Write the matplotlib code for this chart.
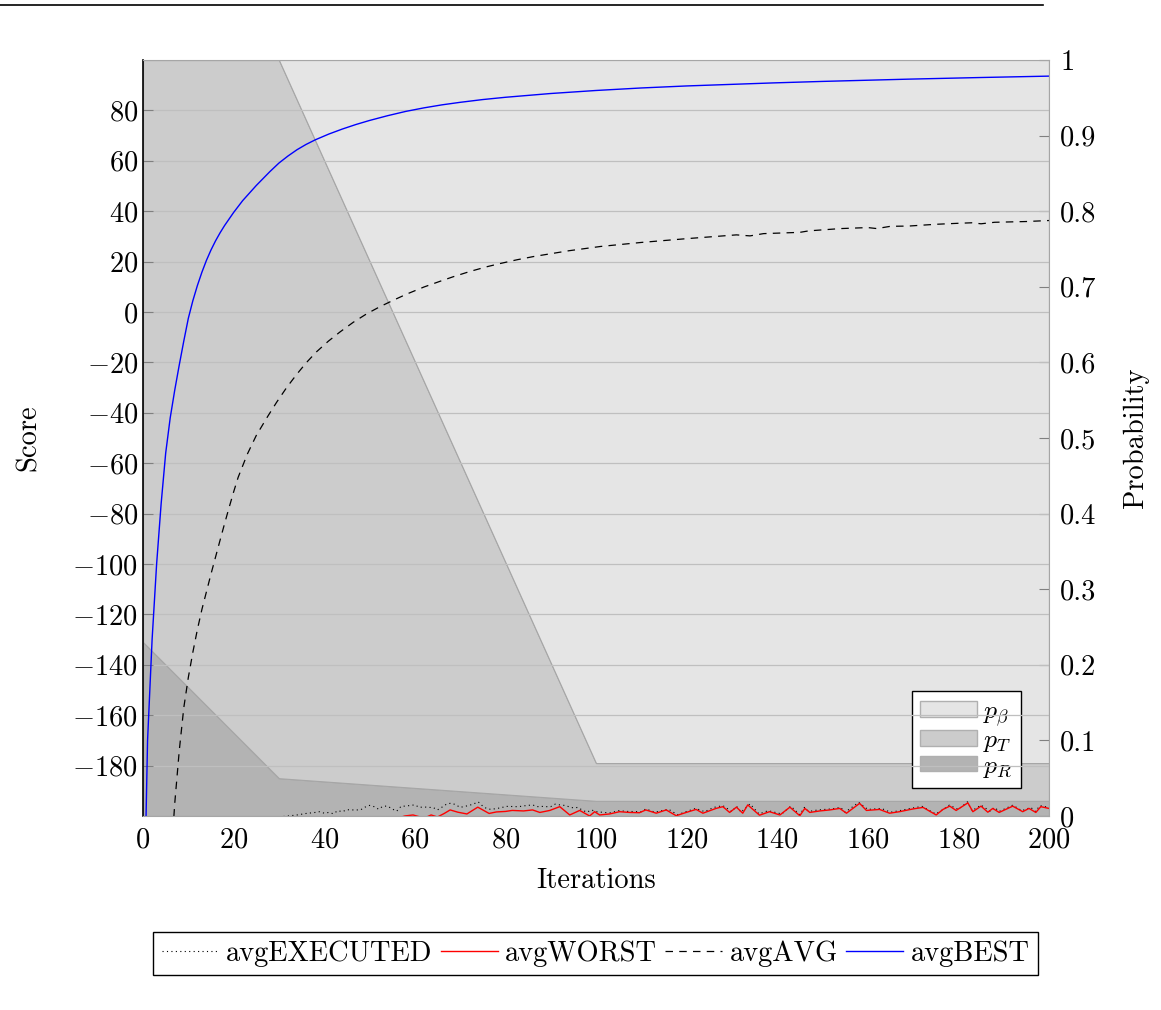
import matplotlib
matplotlib.use("Agg")
import matplotlib.pyplot as plt
from matplotlib.lines import Line2D
from matplotlib.patches import Patch
from matplotlib.ticker import FuncFormatter

plt.rcParams['font.family'] = 'cmr10'
plt.rcParams['mathtext.fontset'] = 'cm'
plt.rcParams['axes.formatter.use_mathtext'] = True
plt.rcParams['font.size'] = 20.5

# --- probabilities (right axis, stacked) ---
prob_x = [0, 30, 100, 200]
p_R = [0.23, 0.05, 0.02, 0.02]
p_T = [0.77, 0.95, 0.05, 0.05]
p_beta = [0.0, 0.0, 0.93, 0.93]

# --- avgBEST ---
best_x = [0, 1, 2, 3, 4, 5, 6, 7, 8, 9, 10, 11, 12, 13, 14, 15, 16, 17, 18, 20,
          22, 25, 28, 30, 32, 34, 36, 38, 41, 44, 47, 50, 54, 58, 62, 66, 70, 75,
          80, 90, 100, 110, 120, 139, 150, 169, 185, 200]
best_y = [-260, -170, -130, -100, -76, -56, -42, -31, -21, -11.5, -2.5, 4.5, 10.5,
          15.8, 20.5, 24.6, 28.2, 31.4, 34.3, 39.5, 44.2, 50.2, 55.7, 59.1, 61.9,
          64.4, 66.5, 68.3, 70.6, 72.6, 74.4, 76.0, 77.9, 79.6, 81.0, 82.2, 83.2,
          84.3, 85.2, 86.7, 87.9, 88.9, 89.7, 90.9, 91.5, 92.4, 93.05, 93.6]

# --- avgAVG ---
avg_x = [6, 7, 8, 9, 10, 11, 12, 13, 14, 15, 16, 17, 18, 19, 20, 21, 23, 25,
         27.5, 29.5, 31.7, 33.9, 36.1, 38.3, 40.9, 43.5, 46.4, 49.4, 52.3, 55.3,
         58.2, 62, 65.6, 68.5, 72.2, 76, 79, 82.5, 86.2, 94, 101, 110, 120, 131,
         134, 137, 145, 147, 154, 160, 162, 165, 169, 175, 180, 183, 185, 188,
         195, 200]
avg_y = [-222, -195, -174, -157, -145, -135, -126, -118, -111, -104, -97.3, -90.6,
         -84, -77.6, -71.4, -65.6, -56.5, -49, -41.5, -35.8, -30, -24.8, -20,
         -15.8, -11.6, -7.9, -4.1, -0.7, 2.1, 4.7, 7.1, 9.9, 12.2, 14, 16.1, 18,
         19.3, 20.7, 22, 24.3, 26, 27.6, 29.1, 30.6, 30.2, 31.1, 31.6, 32.2, 33.1,
         33.5, 33.1, 34, 34.1, 34.8, 35.2, 35.4, 35, 35.6, 35.9, 36.3]

# --- avgWORST ---
worst_x = [56, 57.8, 59.6, 61, 62.5, 63.6, 65, 66.5, 67.8, 69.5, 71.5, 73.9, 76.4,
           78, 80, 81.5, 84, 86, 87.6, 89.8, 92, 94.2, 96.4, 98.6, 99.7, 100.8, 103,
           105.2, 107.4, 109.6, 111, 113.3, 115.5, 117.7, 119.9, 122.1, 123.6, 126.5,
           128, 129.5, 131, 132.4, 133.5, 136.1, 138.3, 140.6, 142.8, 145, 146.1,
           147.2, 149.4, 151.6, 153.8, 155.3, 158.2, 159.7, 162.6, 164.8, 167, 170,
           172.2, 175.1, 176.6, 178.1, 179.5, 182.1, 183.2, 185, 186.5, 187.6, 189,
           192, 194.2, 195.6, 197.1, 198.2, 200]
worst_y = [-201, -200, -199.6, -200.3, -200.5, -199.6, -200.4, -199, -197.6, -198.5,
           -199.2, -196.5, -199, -198.4, -198.2, -197.8, -198, -197.6, -198.6,
           -197.8, -196.3, -199.6, -197.8, -200, -198.3, -199.6, -199.2, -198.3,
           -198.6, -198.7, -197.6, -198.9, -197.6, -199.9, -198.6, -197.4, -198.9,
           -197, -196.3, -198.6, -196.5, -198.9, -195.6, -199.7, -198.3, -199.6,
           -196.5, -199.9, -197, -198.6, -198, -197.6, -197, -198.9, -195, -197.8,
           -197.4, -198.9, -198.3, -197.2, -196.6, -199.6, -197.4, -196.1, -197.8,
           -194.8, -198.3, -196.1, -198.5, -197, -198.6, -196.1, -198.3, -197,
           -198.6, -196.3, -197]

# --- avgEXECUTED ---
exec_x = list(range(31, 101)) + [103, 105, 107, 110, 111, 113, 116, 118, 120, 122,
                                 124, 126, 128, 130, 131, 132, 134, 136, 138, 141,
                                 143, 145, 146, 147, 149, 152, 154, 155, 158, 160,
                                 163, 165, 167, 170, 172, 175, 177, 178, 180, 182,
                                 183, 185, 187, 188, 189, 192, 194, 196, 197, 198,
                                 200]
exec_y = [-200.2, -200, -199.8, -199.6, -199.3, -199, -198.8, -198.6, -198.3, -198.9,
          -198.6, -199.1, -197.9, -198.3, -197.5, -197.6, -197.6, -197.6, -196.5,
          -195.8, -196.3, -197.3, -196.1, -196.1, -197.2, -198.1, -196.1, -196.1,
          -195.8, -195.6, -196.6, -196.4, -196.6, -196.6, -197.6, -196.5, -195.3,
          -194.9, -195.5, -196.6, -196.2, -195.8, -195.2, -194.4, -196.1, -197.2,
          -197.4, -197, -196.8, -196.2, -196.2, -196.3, -196.3, -196, -195.8, -195.6,
          -196.3, -196.2, -196.3, -196.3, -195.3, -195.6, -195.8, -196.3, -196.8,
          -196.6, -197.7, -198.5, -197.6, -198.3,
          -198.8, -197.9, -198.2, -198.3, -197.2, -198.5, -197.3, -199.5, -198.2,
          -197, -198.3, -196.6, -195.9, -198.2, -196.1, -198.5, -195.2, -199.2,
          -197.9, -199.2, -196.1, -199.5, -196.6, -198.2, -197.6, -197.2, -196.6,
          -198.5, -194.6, -197.4, -197, -198.5, -197.9, -196.8, -196.2, -199.2,
          -197, -195.7, -197.4, -194.4, -197.9, -195.7, -198.1, -196.6, -198.2,
          -195.7, -197.9, -196.6, -198.2, -195.9, -196.6]

fig = plt.figure(figsize=(11.61, 10.10), dpi=100)
ax = fig.add_axes([0.1232, 0.1921, 0.7803, 0.7485])
ax2 = ax.twinx()
ax.set_zorder(ax2.get_zorder() + 1)
ax.patch.set_visible(False)

# probability areas
fill_cols = ['#b3b3b3', '#cccccc', '#e5e5e5']
ax2.stackplot(prob_x, p_R, p_T, p_beta, colors=fill_cols,
              edgecolor='#a6a6a6', linewidth=0.8)
ax2.set_ylim(0, 1)
ax2.set_yticks([i / 10 for i in range(11)])
ax2.yaxis.set_major_formatter(FuncFormatter(
    lambda v, p: '0' if v == 0 else ('1' if v == 1 else f'{v:.1f}')))
ax2.tick_params(axis='y', direction='in', length=7, color='#808080', pad=8)
ax2.set_ylabel('Probability', labelpad=19)
for s in ax2.spines.values():
    s.set_visible(False)

area_handles = [Patch(facecolor='#e5e5e5', edgecolor='#b0b0b0', label=r'$p_\beta$'),
                Patch(facecolor='#cccccc', edgecolor='#b0b0b0', label=r'$p_T$'),
                Patch(facecolor='#b3b3b3', edgecolor='#b0b0b0', label=r'$p_R$')]
ax2.legend(handles=area_handles, loc='lower right', bbox_to_anchor=(0.969, 0.037),
           fancybox=False, framealpha=1, edgecolor='black', fontsize=18.5,
           handlelength=2.2, handleheight=0.55, handletextpad=0.25,
           labelspacing=0.0, borderpad=0.32, borderaxespad=0)

# score lines
l_exec, = ax.plot(exec_x, exec_y, color='black', lw=0.8, linestyle=(0, (1, 3)))
l_worst, = ax.plot(worst_x, worst_y, color='red', lw=1.0)
l_avg, = ax.plot(avg_x, avg_y, color='black', lw=0.9, linestyle=(0, (6, 5)))
l_best, = ax.plot(best_x, best_y, color='blue', lw=1.0)

ax.set_xlim(0, 200)
ax.set_ylim(-200, 100)
ax.set_xticks(range(0, 201, 20))
ax.set_yticks(range(-180, 81, 20))
ax.grid(axis='y', color='#bfbfbf', lw=0.9)
ax.tick_params(axis='y', direction='in', length=7, color='#808080')
ax.tick_params(axis='x', direction='in', length=0, pad=8)
ax.set_xlabel('Iterations', labelpad=10)
ax.set_ylabel('Score', labelpad=22)
ax.spines['left'].set_color('black')
ax.spines['left'].set_linewidth(1.2)
for k in ['top', 'right', 'bottom']:
    ax.spines[k].set_color('#a6a6a6')
    ax.spines[k].set_linewidth(0.8)

fig.legend(handles=[l_exec, l_worst, l_avg, l_best],
           labels=['avgEXECUTED', 'avgWORST', 'avgAVG', 'avgBEST'],
           loc='center', bbox_to_anchor=(0.513, 0.056), ncol=4,
           fancybox=False, framealpha=1, edgecolor='black', fontsize=20.5,
           handlelength=2.0, handletextpad=0.25, columnspacing=0.3,
           borderpad=0.3)

# rule at the top of the page
fig.add_artist(Line2D([0, 1043 / 1161], [1 - 5 / 1010, 1 - 5 / 1010],
                      color='black', lw=1.2))

fig.savefig('out.png', dpi=100)
